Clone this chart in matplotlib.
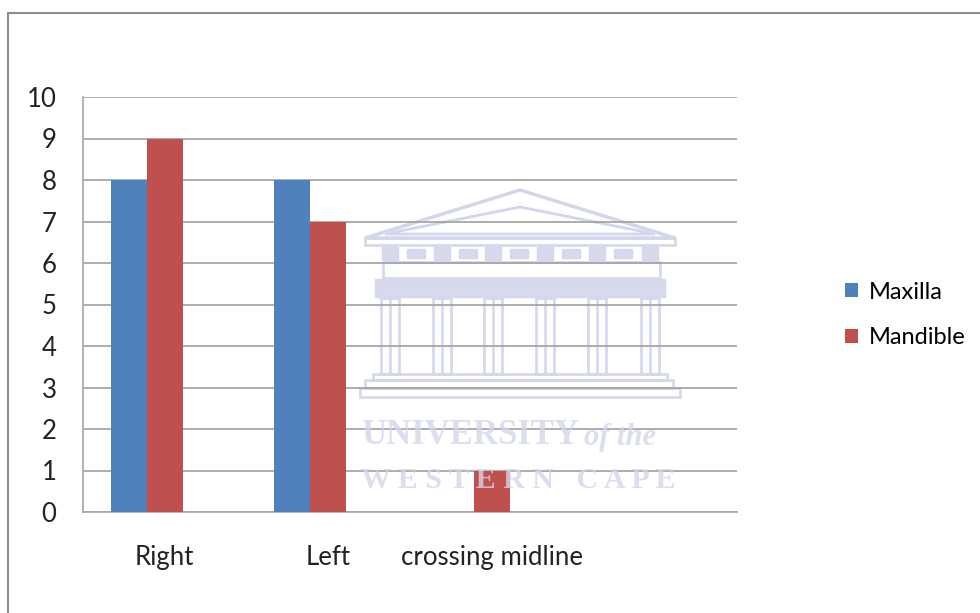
import matplotlib
matplotlib.use("Agg")
import matplotlib.pyplot as plt
from matplotlib.patches import Rectangle, Patch, Polygon
import numpy as np

categories = ["Right", "Left", "crossing midline", ""]
maxilla = [8, 8, 0, 0]
mandible = [9, 7, 1, 0]
series_names = ["Maxilla", "Mandible"]
colors = ["#4F81BD", "#C0504D"]
yticks = list(range(0, 11))

plt.rcParams['font.family'] = ['Lato', 'DejaVu Sans']

W, H = 980, 613
AX_L, AX_R, AX_T, AX_B = 83, 737, 97, 512
fig = plt.figure(figsize=(W / 100, H / 100), dpi=100)
fig.patch.set_facecolor("white")

# outer chart border (extends off the right / bottom)
fig.patches.append(Rectangle((8 / W, -0.1), 1.2, 1 - 13 / H + 0.1, transform=fig.transFigure,
                             fill=False, edgecolor="#8c8c8c", linewidth=1.5))

ax = fig.add_axes([AX_L / W, 1 - AX_B / H, (AX_R - AX_L) / W, (AX_B - AX_T) / H])
x = np.arange(len(categories))
bw = 0.22
ax.bar(x - bw, maxilla, width=bw, align="center", color=colors[0], label=series_names[0], zorder=3)
ax.bar(x, mandible, width=bw, align="center", color=colors[1], label=series_names[1], zorder=3)

ax.set_xlim(-0.5, len(categories) - 0.5)
ax.set_ylim(0, 10)
ax.set_yticks(yticks)
ax.set_xticks(x)
ax.set_xticklabels(categories, fontsize=18.5)
ax.tick_params(axis="x", length=0, pad=23.5, colors="#222222")
ax.tick_params(axis="y", length=0, pad=19, labelsize=18.5, colors="#222222")
ax.yaxis.grid(True, color="#a0a0a0", linewidth=1.2)
for s in ["top", "right"]:
    ax.spines[s].set_visible(False)
for s in ["left", "bottom"]:
    ax.spines[s].set_color("#a6a6a6")
    ax.spines[s].set_linewidth(1.2)

# ---- faint watermark (decoration) ----
def P(px, py):
    return ((px - AX_L) / (AX_R - AX_L), (AX_B - py) / (AX_B - AX_T))

wm = "#d3d6ec"
def rect(x0, y0, x1, y1, fill=False, lw=2.0):
    (a, b), (c, d) = P(x0, y1), P(x1, y0)
    ax.add_patch(Rectangle((a, b), c - a, d - b, transform=ax.transAxes,
                           facecolor=wm if fill else "none", edgecolor=wm,
                           linewidth=lw, zorder=1, alpha=0.9))

ax.add_patch(Polygon([P(365, 238), P(520, 190), P(675, 238)], closed=True, transform=ax.transAxes,
                     fill=False, edgecolor=wm, linewidth=2.5, zorder=1))
ax.add_patch(Polygon([P(385, 234), P(520, 207), P(655, 234)], closed=True, transform=ax.transAxes,
                     fill=False, edgecolor=wm, linewidth=2.0, zorder=1))
rect(365, 238, 675, 245)
for cx in [390, 442, 493, 545, 597, 650]:
    rect(cx - 8, 247, cx + 8, 260, fill=True, lw=1)
for cx in [416, 468, 519, 571, 623]:
    rect(cx - 9, 249, cx + 9, 258, fill=True, lw=1)
rect(383, 262, 660, 278)
rect(375, 279, 665, 297, fill=True, lw=1)
for cx in [390, 442, 493, 545, 597, 650]:
    rect(cx - 9, 298, cx + 9, 374)
    rect(cx - 1, 298, cx + 1, 374, fill=True, lw=0.5)
rect(373, 374, 667, 380)
rect(365, 380, 673, 388)
rect(360, 388, 680, 397)

ax.text(*P(361, 435), "UNIVERSITY", transform=ax.transAxes, fontsize=25,
        family="Liberation Serif", fontweight="bold", color=wm, zorder=5,
        va="center", ha="left", alpha=0.8)
ax.text(*P(584, 437), "of the", transform=ax.transAxes, fontsize=22,
        family="Liberation Serif", fontweight="bold", fontstyle="italic", color=wm, zorder=5,
        va="center", ha="left", alpha=0.8)
ax.text(*P(361, 481), "W E S T E R N   C A P E", transform=ax.transAxes, fontsize=21.5,
        family="Liberation Serif", fontweight="bold", color=wm, zorder=5,
        va="center", ha="left", alpha=0.8)

handles = [Patch(facecolor=c) for c in colors]
fig.legend(handles, series_names, loc="center left", bbox_to_anchor=(824 / W, 1 - 315 / H),
           frameon=False, fontsize=17, handlelength=0.55, handleheight=0.55,
           handletextpad=0.45, labelspacing=1.05)

fig.savefig("out.png", dpi=100)
